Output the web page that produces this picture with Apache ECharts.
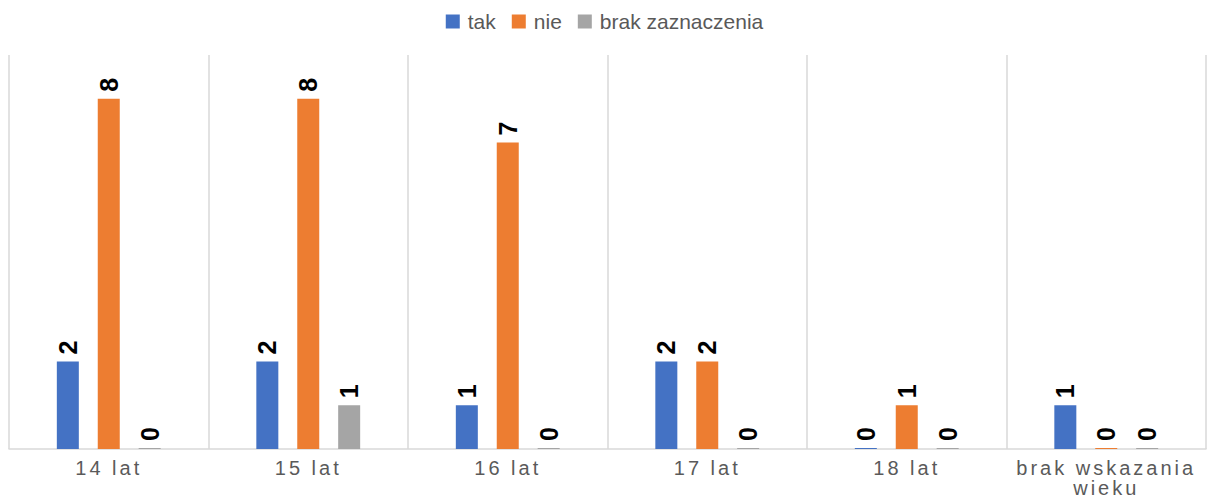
<!DOCTYPE html>
<html>
<head>
<meta charset="utf-8">
<script src="https://cdn.jsdelivr.net/npm/echarts@6/dist/echarts.min.js"></script>
<style>
  html, body { margin: 0; padding: 0; background: #ffffff; }
  #chart { width: 1209px; height: 499px; }
  /* wide tracking for the category labels under the axis */
  #chart text[fill="#5a5a5a"], #chart text[fill="rgb(90,90,90)"] { letter-spacing: 3px; }
</style>
</head>
<body>
<div id="chart"></div>
<script>
// Age groups on the x axis
const categories = ['14 lat', '15 lat', '16 lat', '17 lat', '18 lat', 'brak wskazania wieku'];

// Answer counts per age group
const tak = [2, 2, 1, 2, 0, 1];
const nie = [8, 8, 7, 2, 1, 0];
const brakZaznaczenia = [0, 1, 0, 0, 0, 0];

const seriesNames = ['tak', 'nie', 'brak zaznaczenia'];
const seriesData = [tak, nie, brakZaznaczenia];
const seriesColors = ['#4472C4', '#ED7D31', '#A5A5A5'];

const FONT = '"Liberation Sans", Arial, sans-serif';

const chart = echarts.init(document.getElementById('chart'), null, { renderer: 'svg' });

chart.setOption({
  animation: false,
  backgroundColor: '#ffffff',
  color: seriesColors,
  legend: {
    data: seriesNames,
    top: 6,
    left: 'center',
    icon: 'rect',
    itemWidth: 14,
    itemHeight: 14,
    itemGap: 16,
    textStyle: { fontFamily: FONT, fontSize: 21, color: '#595959', padding: [0, 0, 0, 3] }
  },
  grid: { left: 9, right: 3, top: 55, bottom: 50, containLabel: false },
  xAxis: {
    type: 'category',
    data: categories,
    axisLine: { lineStyle: { color: '#d9d9d9', width: 1.5 } },
    axisTick: { show: false },
    splitLine: { show: true, lineStyle: { color: '#d9d9d9', width: 1.5 } },
    axisLabel: {
      margin: 9,
      fontFamily: FONT,
      fontSize: 20,
      lineHeight: 20,
      color: '#5a5a5a',
      interval: 0,
      formatter: function (v) {
        // long labels wrap before their last word
        if (v.length > 12) {
          const i = v.lastIndexOf(' ');
          return v.slice(0, i) + '\n' + v.slice(i + 1);
        }
        return v;
      }
    }
  },
  yAxis: {
    type: 'value',
    min: 0,
    max: 9,
    interval: 1,
    show: false,
    splitLine: { show: false }
  },
  series: seriesNames.map(function (name, k) {
    return {
      name: name,
      type: 'bar',
      data: seriesData[k],
      barWidth: 22,
      barGap: '86%',
      barMinHeight: 1,
      itemStyle: { color: seriesColors[k] },
      label: {
        show: true,
        position: 'top',
        rotate: 90,
        align: 'left',
        verticalAlign: 'middle',
        distance: 7,
        fontFamily: FONT,
        fontSize: 25,
        fontWeight: 'bold',
        color: '#000000'
      }
    };
  })
});
</script>
</body>
</html>
